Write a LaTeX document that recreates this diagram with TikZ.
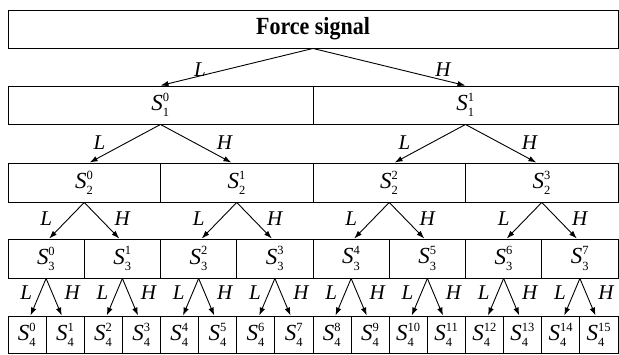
\documentclass[tikz,border=0pt]{standalone}
\usepackage{fontspec}
\usepackage{graphicx}
\setmainfont{Liberation Serif}
\usetikzlibrary{arrows.meta,calc}
\newcommand\Sl[2]{$\textit{S}^{\mbox{\fontsize{12.5}{12.5}\selectfont#1}}_{\mbox{\fontsize{12.5}{12.5}\selectfont#2}}$}
\begin{document}
\begin{tikzpicture}[x=1pt,y=-1pt,
 box/.style={draw,line width=0.9pt,rectangle,inner sep=0pt,anchor=center,font=\fontsize{23}{25}\selectfont},
 arr/.style={line width=0.9pt,-{Latex[length=8pt,width=5.5pt]}},
 lab/.style={font=\fontsize{21}{23}\selectfont\itshape,inner sep=0pt}]
\useasboundingbox (0,0) rectangle (619,354);
\node[box,minimum width=610pt,minimum height=38pt,font=\fontsize{22}{24}\selectfont\bfseries] (r0-0) at (313,29) {\scalebox{1}[1.12]{Force signal}};
\foreach \k/\n/\w/\y/\h in {1/2/305/105/38, 2/4/152.5/182.5/39, 3/8/76.25/258.5/39, 4/16/38.125/334.5/37} {
  \pgfmathtruncatemacro\last{\n-1}
  \foreach \i in {0,...,\last} {
    \node[box,minimum width=\w pt,minimum height=\h pt] (r\k-\i) at ({8+\w*(\i+0.5)},\y) {\Sl{\i}{\k}};
  }
}
\foreach \k/\f/\dl/\dh/\dy in {1/1.0/113/130/21, 2/0.93/61/64/18, 3/0.92/38/38/16, 4/0.82/20/26/14} {
  \pgfmathtruncatemacro\pk{\k-1}
  \pgfmathtruncatemacro\np{2^(\k-1)-1}
  \foreach \j in {0,...,\np} {
    \pgfmathtruncatemacro\a{2*\j}
    \pgfmathtruncatemacro\b{2*\j+1}
    \draw[arr] let \p1=(r\pk-\j.south), \p2=(r\k-\a.north) in (\p1) -- ({\x1+\f*(\x2-\x1)},\y2);
    \draw[arr] let \p1=(r\pk-\j.south), \p2=(r\k-\b.north) in (\p1) -- ({\x1+\f*(\x2-\x1)},\y2);
    \node[lab] (lL\k-\j) at ([shift={(-\dl,\dy)}]r\pk-\j.south) {L};
    \node[lab] (lH\k-\j) at ([shift={(\dh,\dy)}]r\pk-\j.south) {H};
  }
}
\end{tikzpicture}
\end{document}
